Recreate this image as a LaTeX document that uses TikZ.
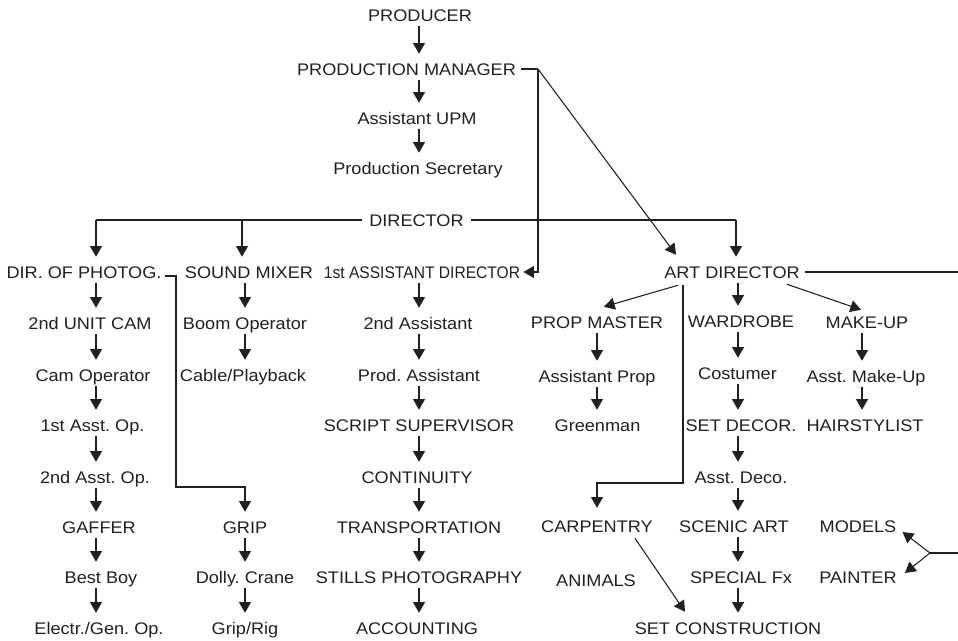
\documentclass[tikz,border=0pt]{standalone}
\usepackage{fontspec}
\setmainfont{Liberation Sans}[FakeStretch=1.08]
\usepackage{graphicx}
\usetikzlibrary{arrows.meta,calc}
\definecolor{ink}{RGB}{35,31,32}
\frenchspacing
\begin{document}
\begin{tikzpicture}[x=0.75pt,y=-0.75pt,
  lbl/.style={inner sep=0pt, text height=9pt, text depth=0pt, text=ink,
    font=\fontsize{12.6pt}{14pt}\selectfont\frenchspacing},
  ln/.style={line width=0.8pt, draw=ink},
  arr/.style={ln, -{Triangle[length=8pt,width=9pt]}},
  varr/.style={arr, shorten <=3.75pt, shorten >=6.75pt}]
\useasboundingbox (0,0) rectangle (958,640);
% column coordinates
\coordinate (cM) at (419,0);
\coordinate (cA) at (96,0);
\coordinate (cB) at (245,0);
\coordinate (cC) at (419,0);
\coordinate (cD) at (597,0);
\coordinate (cE) at (738,0);
\coordinate (cF) at (862,0);
% top chain
\node[lbl] (prod) at (420,15) {PRODUCER};
\node[lbl] (pm) at (406.5,69) {PRODUCTION MANAGER};
\node[lbl] (aupm) at (417,118) {Assistant UPM};
\node[lbl] (psec) at (418,168) {Production Secretary};
\node[lbl] (dir) at (416.5,220) {DIRECTOR};
% row A
\node[lbl] (dop) at (84,272) {DIR. OF PHOTOG.};
\node[lbl] (snd) at (249,272) {SOUND MIXER};
\node[lbl] (fad) at (422,272) {\scalebox{0.86}[1]{1st ASSISTANT DIRECTOR}};
\node[lbl] (art) at (732,272) {ART DIRECTOR};
% row B
\node[lbl] (unit2) at (90,323) {2nd UNIT CAM};
\node[lbl] (boom) at (245,323) {Boom Operator};
\node[lbl] (asst2) at (418,323) {2nd Assistant};
\node[lbl] (propm) at (597,322) {PROP MASTER};
\node[lbl] (ward) at (741,321) {WARDROBE};
\node[lbl] (make) at (867,322) {MAKE-UP};
% row C
\node[lbl] (camop) at (93,375) {Cam Operator};
\node[lbl] (cable) at (243,375) {Cable/Playback};
\node[lbl] (prodas) at (419,375) {Prod. Assistant};
\node[lbl] (aprop) at (597,376) {Assistant Prop};
\node[lbl] (cost) at (737.5,373) {Costumer};
\node[lbl] (amake) at (866,376) {Asst. Make-Up};
% row D
\node[lbl] (ast1) at (92.5,425) {1st Asst. Op.};
\node[lbl] (script) at (419,425) {SCRIPT SUPERVISOR};
\node[lbl] (green) at (597.5,425) {Greenman};
\node[lbl] (setdec) at (741,425) {SET DECOR.};
\node[lbl] (hair) at (865,425) {HAIRSTYLIST};
% row E
\node[lbl] (ast2) at (95,477) {2nd Asst. Op.};
\node[lbl] (cont) at (417,477) {CONTINUITY};
\node[lbl] (adeco) at (741,477) {Asst. Deco.};
% row F
\node[lbl] (gaffer) at (99,527) {GAFFER};
\node[lbl] (grip) at (245,527) {GRIP};
\node[lbl] (trans) at (419,527) {TRANSPORTATION};
\node[lbl] (carp) at (597,526) {CARPENTRY};
\node[lbl] (scenic) at (734,526) {SCENIC ART};
\node[lbl] (models) at (858,526) {MODELS};
% row G
\node[lbl] (best) at (101,577) {Best Boy};
\node[lbl] (dolly) at (245,577) {Dolly. Crane};
\node[lbl] (stills) at (419,577) {STILLS PHOTOGRAPHY};
\node[lbl] (animals) at (596,580) {ANIMALS};
\node[lbl] (spfx) at (741,577) {SPECIAL Fx};
\node[lbl] (painter) at (858,577) {PAINTER};
% row H
\node[lbl] (elec) at (99,628) {Electr./Gen. Op.};
\node[lbl] (griprig) at (245,628) {Grip/Rig};
\node[lbl] (acct) at (417,628) {ACCOUNTING};
\node[lbl] (setcon) at (728,628) {SET CONSTRUCTION};
% vertical chains
\foreach \a/\b in {prod/pm, pm/aupm, aupm/psec}
  \draw[varr] (\a.south -| cM) -- (\b.north -| cM);
\foreach \a/\b in {dop/unit2, unit2/camop, camop/ast1, ast1/ast2, ast2/gaffer, gaffer/best, best/elec}
  \draw[varr] (\a.south -| cA) -- (\b.north -| cA);
\foreach \a/\b in {snd/boom, boom/cable, grip/dolly, dolly/griprig}
  \draw[varr] (\a.south -| cB) -- (\b.north -| cB);
\foreach \a/\b in {fad/asst2, asst2/prodas, prodas/script, script/cont, cont/trans, trans/stills, stills/acct}
  \draw[varr] (\a.south -| cC) -- (\b.north -| cC);
\foreach \a/\b in {propm/aprop, aprop/green}
  \draw[varr] (\a.south -| cD) -- (\b.north -| cD);
\foreach \a/\b in {art/ward, ward/cost, cost/setdec, setdec/adeco, adeco/scenic, scenic/spfx, spfx/setcon}
  \draw[varr] (\a.south -| cE) -- (\b.north -| cE);
\foreach \a/\b in {make/amake, amake/hair}
  \draw[varr] (\a.south -| cF) -- (\b.north -| cF);
% production manager branches
\coordinate (pmc) at (538,69);
\draw[ln] ([xshift=3.75pt]pm.east) -- (pmc);
\coordinate (fadR) at ([xshift=2.25pt]fad.east);
\draw[arr] (pmc) -- (pmc |- fadR) -- (fadR);
\draw[arr] (pmc) -- ($(art.north west)+(12,-11)$);
% director branches
\coordinate (dL) at (96,220);
\coordinate (sB) at (242,220);
\coordinate (dR) at (736,220);
\draw[ln] ([xshift=-5.25pt]dir.west) -- (dL);
\draw[arr, shorten >=6.75pt] (dL) -- (dop.north -| dL);
\draw[arr, shorten >=6.75pt] (sB) -- (snd.north -| sB);
\draw[ln] ([xshift=5.25pt]dir.east) -- (dR);
\draw[arr, shorten >=6.75pt] (dR) -- (art.north -| dR);
% DOP to GRIP
\coordinate (dp0) at ([xshift=2.25pt,yshift=-3pt]dop.east);
\coordinate (dp2) at (176,487);
\draw[arr, shorten >=6.75pt] (dp0) -- (dp0 -| dp2) -- (dp2) -- (dp2 -| cB) -- (grip.north -| cB);
% art director branches
\coordinate (artR) at (958,272);
\draw[ln] ([xshift=3.75pt]art.east) -- (artR);
\draw[arr] ($(art.south)+(-54,7)$) -- ($(propm.north)+(7,-9)$);
\draw[arr] ($(art.south)+(55,6)$) -- ($(make.north)+(-6,-6)$);
\coordinate (av0) at ($(art.south)+(-49,7)$);
\coordinate (av1) at (683,483);
\draw[arr, shorten >=9pt] (av0) -- (av1) -- (av1 -| cD) -- (carp.north -| cD);
% carpentry to set construction
\draw[arr] ($(carp.south)+(38,6)$) -- ($(setcon.north)+(-43,-10)$);
% models / painter bracket
\coordinate (brR) at (958,553);
\coordinate (brJ) at (930,553);
\draw[ln] (brR) -- (brJ);
\draw[arr] (brJ) -- ($(models.east)+(6,6)$);
\draw[arr] (brJ) -- ($(painter.east)+(8,-4)$);
\end{tikzpicture}
\end{document}
